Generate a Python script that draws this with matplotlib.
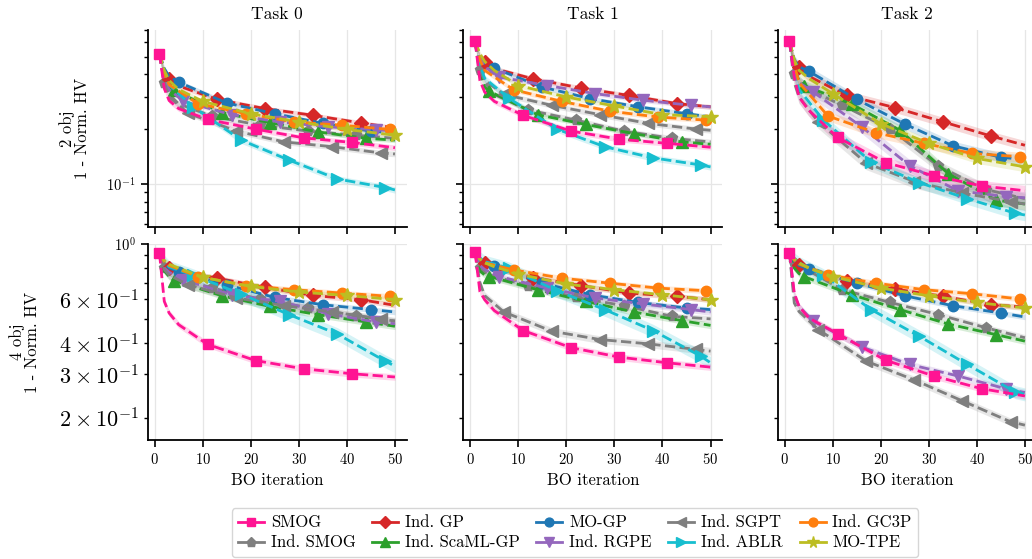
import numpy as np
import matplotlib
matplotlib.use("Agg")
import matplotlib.pyplot as plt
from matplotlib.lines import Line2D

plt.rcParams.update({
    "font.family": "serif",
    "font.serif": ["cmr10"],
    "mathtext.fontset": "cm",
    "axes.formatter.use_mathtext": True,
})

# ---------------- data ----------------
methods = ["SMOG", "Ind. SMOG", "Ind. GP", "Ind. ScaML-GP", "MO-GP",
           "Ind. RGPE", "Ind. SGPT", "Ind. ABLR", "Ind. GC3P", "MO-TPE"]
tasks = ["Task 0", "Task 1", "Task 2"]
row_labels = ["2 obj\n1 - Norm. HV", "4 obj\n1 - Norm. HV"]

# BO iterations at which each method's mean curve is read
iters = [
    [1, 2, 3, 5, 11, 21, 31, 41, 50],
    [1, 2, 3, 5, 12, 22, 32, 42, 50],
    [1, 2, 3, 5, 13, 23, 33, 43, 50],
    [1, 2, 3, 4, 14, 24, 34, 44, 50],
    [1, 2, 3, 5, 15, 25, 35, 45, 50],
    [1, 2, 3, 6, 16, 26, 36, 46, 50],
    [1, 2, 3, 7, 17, 27, 37, 47, 50],
    [1, 2, 3, 8, 18, 28, 38, 48, 50],
    [1, 2, 3, 9, 19, 29, 39, 49, 50],
    [1, 2, 3, 5, 10, 20, 30, 40, 50],
]

obj2_task0 = [
    [0.52, 0.334, 0.287, 0.259, 0.226, 0.200, 0.179, 0.169, 0.158],
    [0.52, 0.36, 0.31, 0.275, 0.235, 0.210, 0.195, 0.185, 0.178],
    [0.52, 0.41, 0.378, 0.345, 0.291, 0.259, 0.238, 0.216, 0.203],
    [0.52, 0.37, 0.34, 0.326, 0.246, 0.217, 0.193, 0.178, 0.174],
    [0.52, 0.43, 0.39, 0.362, 0.278, 0.243, 0.215, 0.195, 0.19],
    [0.52, 0.38, 0.33, 0.284, 0.240, 0.219, 0.206, 0.198, 0.196],
    [0.52, 0.36, 0.30, 0.244, 0.195, 0.170, 0.160, 0.148, 0.146],
    [0.52, 0.40, 0.35, 0.265, 0.174, 0.135, 0.1065, 0.0955, 0.0927],
    [0.52, 0.40, 0.35, 0.276, 0.243, 0.219, 0.210, 0.199, 0.198],
    [0.52, 0.42, 0.37, 0.33, 0.284, 0.243, 0.219, 0.199, 0.185],
]
obj2_task1 = [
    [0.607, 0.37, 0.319, 0.284, 0.238, 0.195, 0.176, 0.167, 0.159],
    [0.607, 0.42, 0.36, 0.31, 0.255, 0.224, 0.195, 0.178, 0.17],
    [0.607, 0.50, 0.466, 0.43, 0.378, 0.336, 0.306, 0.276, 0.265],
    [0.607, 0.40, 0.34, 0.322, 0.24, 0.212, 0.189, 0.17, 0.165],
    [0.607, 0.50, 0.46, 0.432, 0.340, 0.294, 0.265, 0.243, 0.233],
    [0.607, 0.49, 0.44, 0.386, 0.347, 0.313, 0.288, 0.270, 0.265],
    [0.607, 0.42, 0.37, 0.31, 0.270, 0.240, 0.215, 0.200, 0.197],
    [0.607, 0.45, 0.38, 0.296, 0.200, 0.160, 0.139, 0.127, 0.124],
    [0.607, 0.48, 0.42, 0.329, 0.284, 0.251, 0.233, 0.224, 0.223],
    [0.607, 0.52, 0.47, 0.42, 0.347, 0.300, 0.268, 0.240, 0.234],
]
obj2_task2 = [
    [0.607, 0.386, 0.30, 0.254, 0.18, 0.131, 0.111, 0.0975, 0.0917],
    [0.607, 0.40, 0.36, 0.33, 0.27, 0.20, 0.125, 0.093, 0.083],
    [0.607, 0.47, 0.437, 0.39, 0.306, 0.262, 0.219, 0.183, 0.163],
    [0.607, 0.42, 0.37, 0.347, 0.274, 0.197, 0.114, 0.0815, 0.0775],
    [0.607, 0.48, 0.44, 0.416, 0.291, 0.213, 0.162, 0.140, 0.136],
    [0.607, 0.42, 0.36, 0.319, 0.206, 0.126, 0.0917, 0.0852, 0.084],
    [0.607, 0.36, 0.30, 0.219, 0.13, 0.103, 0.089, 0.080, 0.0775],
    [0.607, 0.40, 0.33, 0.225, 0.132, 0.1017, 0.083, 0.069, 0.0675],
    [0.607, 0.45, 0.36, 0.236, 0.191, 0.167, 0.147, 0.141, 0.141],
    [0.607, 0.48, 0.42, 0.38, 0.313, 0.214, 0.167, 0.138, 0.124],
]
obj4_task0 = [
    [0.918, 0.588, 0.528, 0.474, 0.395, 0.340, 0.315, 0.301, 0.292],
    [0.918, 0.80, 0.77, 0.73, 0.665, 0.60, 0.555, 0.515, 0.49],
    [0.918, 0.83, 0.80, 0.78, 0.729, 0.669, 0.621, 0.597, 0.567],
    [0.918, 0.78, 0.74, 0.713, 0.619, 0.561, 0.520, 0.486, 0.467],
    [0.918, 0.84, 0.80, 0.775, 0.685, 0.610, 0.570, 0.545, 0.533],
    [0.918, 0.80, 0.77, 0.718, 0.625, 0.588, 0.525, 0.486, 0.478],
    [0.918, 0.79, 0.75, 0.685, 0.607, 0.565, 0.533, 0.50, 0.49],
    [0.918, 0.85, 0.81, 0.75, 0.629, 0.520, 0.435, 0.338, 0.323],
    [0.918, 0.85, 0.82, 0.740, 0.681, 0.655, 0.635, 0.616, 0.614],
    [0.918, 0.86, 0.83, 0.80, 0.735, 0.675, 0.641, 0.621, 0.597],
]
obj4_task1 = [
    [0.926, 0.644, 0.597, 0.54, 0.449, 0.383, 0.351, 0.333, 0.320],
    [0.926, 0.80, 0.77, 0.74, 0.68, 0.61, 0.565, 0.512, 0.50],
    [0.926, 0.86, 0.837, 0.80, 0.733, 0.681, 0.635, 0.616, 0.597],
    [0.926, 0.78, 0.75, 0.740, 0.655, 0.588, 0.533, 0.492, 0.471],
    [0.926, 0.87, 0.84, 0.817, 0.696, 0.625, 0.582, 0.553, 0.545],
    [0.926, 0.82, 0.79, 0.740, 0.665, 0.607, 0.574, 0.545, 0.533],
    [0.926, 0.70, 0.62, 0.533, 0.446, 0.413, 0.397, 0.377, 0.371],
    [0.926, 0.88, 0.85, 0.80, 0.649, 0.545, 0.449, 0.354, 0.333],
    [0.926, 0.87, 0.84, 0.787, 0.729, 0.696, 0.665, 0.649, 0.647],
    [0.926, 0.87, 0.84, 0.81, 0.757, 0.690, 0.655, 0.625, 0.597],
]
obj4_task2 = [
    [0.923, 0.635, 0.561, 0.505, 0.436, 0.341, 0.295, 0.262, 0.245],
    [0.923, 0.84, 0.81, 0.78, 0.655, 0.582, 0.520, 0.460, 0.42],
    [0.923, 0.85, 0.824, 0.80, 0.713, 0.659, 0.616, 0.570, 0.558],
    [0.923, 0.80, 0.76, 0.740, 0.625, 0.545, 0.477, 0.432, 0.407],
    [0.923, 0.85, 0.82, 0.792, 0.696, 0.619, 0.565, 0.528, 0.509],
    [0.923, 0.62, 0.56, 0.489, 0.386, 0.328, 0.295, 0.262, 0.253],
    [0.923, 0.579, 0.535, 0.453, 0.338, 0.284, 0.234, 0.193, 0.187],
    [0.923, 0.87, 0.84, 0.752, 0.545, 0.426, 0.328, 0.254, 0.249],
    [0.923, 0.86, 0.83, 0.752, 0.696, 0.655, 0.631, 0.601, 0.600],
    [0.923, 0.87, 0.84, 0.80, 0.740, 0.665, 0.619, 0.582, 0.553],
]

# relative half-width of the shaded uncertainty band per method
band_obj2 = [0.035, 0.035, 0.03, 0.03, 0.03, 0.03, 0.035, 0.04, 0.03, 0.03]
band_obj4 = [0.03, 0.03, 0.025, 0.03, 0.025, 0.03, 0.035, 0.06, 0.025, 0.025]
band_task2_obj2 = [0.07, 0.07, 0.06, 0.07, 0.06, 0.08, 0.08, 0.07, 0.06, 0.06]

panels = [[obj2_task0, obj2_task1, obj2_task2],
          [obj4_task0, obj4_task1, obj4_task2]]
bands = [[band_obj2, band_obj2, band_task2_obj2],
         [band_obj4, band_obj4, band_obj4]]

# ---------------- style ----------------
colors = ["#ff1493", "#7f7f7f", "#d62728", "#2ca02c", "#1f77b4",
          "#9467bd", "#7f7f7f", "#17becf", "#ff7f0e", "#bcbd22"]
markers = ["s", "p", "D", "^", "o", "v", "<", ">", "o", "*"]
msizes = [7.5, 8, 7, 8, 7.5, 8, 8, 8, 7.5, 10]

W, H = 1032, 559
fig = plt.figure(figsize=(W / 100, H / 100), dpi=100)
lefts = [147.7, 463.3, 777.7]
axw = 259
rows = [(30, 227), (244, 440)]
ylims = [(0.058, 0.70), (0.163, 1.0)]

axes = [[None] * 3 for _ in range(2)]
for r in range(2):
    for c in range(3):
        top, bot = rows[r]
        rect = [lefts[c] / W, 1 - bot / H, axw / W, (bot - top) / H]
        kw = {}
        if c > 0:
            kw["sharey"] = axes[r][0]
        if r > 0:
            kw["sharex"] = axes[0][c]
        ax = fig.add_axes(rect, **kw)
        axes[r][c] = ax

for r in range(2):
    for c in range(3):
        ax = axes[r][c]
        data = panels[r][c]
        band = bands[r][c]
        for i in range(len(methods)):
            x = np.array(iters[i])
            y = np.array(data[i])
            mk = [k for k, xv in enumerate(iters[i]) if (xv - 1) % 10 == i]
            z = 3 if i == 0 else 2
            ax.fill_between(x, y * (1 - band[i]), y * (1 + band[i]),
                            color=colors[i], alpha=0.18, lw=0, zorder=1)
            ax.plot(x, y, ls="--", lw=2, color=colors[i], marker=markers[i],
                    markevery=mk, ms=msizes[i], zorder=z)
        ax.set_yscale("log")
        ax.set_ylim(*ylims[r])
        ax.set_xlim(-1.45, 52.45)
        ax.set_xticks([0, 10, 20, 30, 40, 50])
        ax.grid(True, which="major", color="#e6e6e6", lw=0.9)
        ax.set_axisbelow(True)
        for s in ["top", "right"]:
            ax.spines[s].set_visible(False)
        for s in ["left", "bottom"]:
            ax.spines[s].set_linewidth(1.3)
        ax.tick_params(which="major", direction="out", length=5, width=1.2,
                       labelsize=10.5)
        ax.tick_params(which="minor", direction="out", length=3, width=1.0)
        ax.tick_params(axis="y", which="minor", labelsize=16)
        if r == 0:
            ax.set_title(tasks[c], fontsize=12.5, pad=8)
            ax.tick_params(labelbottom=False)
        else:
            ax.set_xlabel("BO iteration", fontsize=12)
        if c > 0:
            ax.tick_params(axis="y", which="both", labelleft=False)
        else:
            ax.set_ylabel(row_labels[r], fontsize=12, linespacing=1.0)

axes[0][0].yaxis.set_label_coords((90 - 147.7) / axw, 0.5)
axes[1][0].yaxis.set_label_coords((40 - 147.7) / axw, 0.5)

handles = [Line2D([], [], color=colors[i], marker=markers[i], lw=2,
                  ms=msizes[i] * 0.85) for i in range(len(methods))]
leg = fig.legend(handles, methods, loc="lower center",
                 bbox_to_anchor=(0.557, 0.0), ncol=5, fontsize=12,
                 frameon=True, fancybox=True, handlelength=1.56,
                 handletextpad=0.4, columnspacing=1.0, labelspacing=0.28,
                 borderpad=0.4, borderaxespad=0.12)
leg.get_frame().set_edgecolor("#cccccc")
leg.get_frame().set_linewidth(1.0)

fig.savefig("out.png", dpi=100)
